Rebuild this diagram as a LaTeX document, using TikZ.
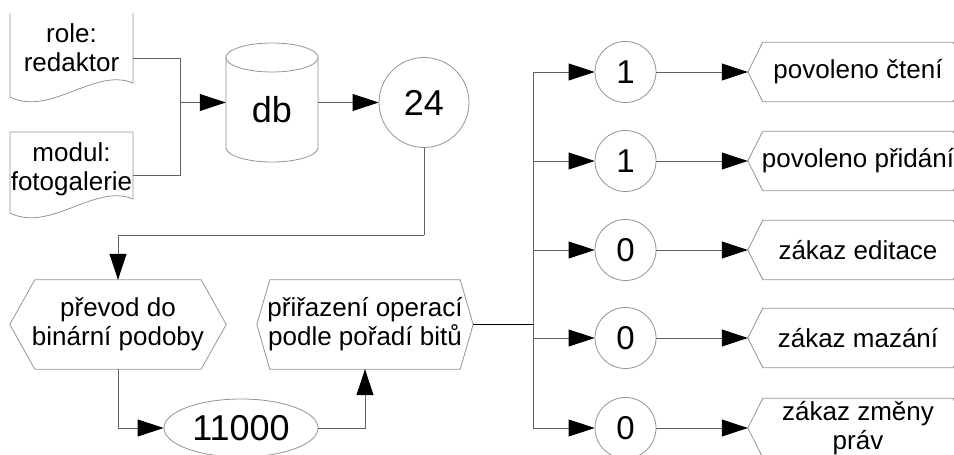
\documentclass[tikz,border=0pt]{standalone}
\usepackage{fontspec}
\setmainfont{Liberation Sans}
\usetikzlibrary{arrows.meta,shapes.geometric}
\newcommand\hexoutline[2]{\draw[outl] (#1.west) -- ([xshift=#2]#1.north west) -- ([xshift=-#2]#1.north east) -- (#1.east) -- ([xshift=-#2]#1.south east) -- ([xshift=#2]#1.south west) -- cycle;}
\begin{document}
\begin{tikzpicture}[x=1pt,y=1pt,
  outl/.style={draw=black!42, line width=0.8pt},
  conn/.style={draw=black!62, line width=0.8pt},
  arr/.style={conn, -{Triangle[length=26pt,width=17pt,color=black]}},
  txt/.style={font=\fontsize{26}{29}\selectfont, align=center, inner sep=0pt},
  bigtxt/.style={font=\fontsize{36}{40}\selectfont, inner sep=0pt},
  midtxt/.style={font=\fontsize{33}{36}\selectfont, inner sep=0pt},
  hexbox/.style={txt, minimum width=#1, minimum height=89pt},
  rhex/.style={txt, minimum width=220pt, minimum height=59pt},
  holder/.style={inner sep=0pt, minimum width=#1},
  bitc/.style={circle, outl, midtxt, minimum size=61pt}
]
\useasboundingbox (0,0) rectangle (954,455);
\clip (0,0) rectangle (954,455);

% documents
\draw[outl] (10,442) -- (10,358) .. controls (50,338) and (95,388) .. (133,372) -- (133,442);
\draw[outl] (10,323) -- (10,242) .. controls (50,222) and (95,272) .. (133,256) -- (133,323) -- cycle;
\node[holder=123pt, minimum height=80pt] (role) at (71.5,397) {};
\node[holder=123pt, minimum height=80pt] (modul) at (71.5,280) {};
\node[txt] (roletext) at (71.5,407) {role:\\redaktor};
\node[txt] (modultext) at (71.5,286) {modul:\\fotogalerie};

% database cylinder
\draw[outl] (226,397.5) -- (226,307.5) arc[start angle=180, end angle=360, x radius=46, y radius=14.5] -- (318,397.5);
\draw[outl] (272,397.5) ellipse [x radius=46, y radius=14.5];
\node[holder=92pt, minimum height=119pt] (db) at (272,352.5) {};
\node[bigtxt] (dbtext) at (272,345) {db};

% value 24
\node[circle, outl, bigtxt, minimum size=90pt] (c24) at (424,352.5) {24};

% hexagons left
\node[hexbox=216pt] (conv) at (118,130.5) {převod do\\binární podoby};
\hexoutline{conv}{25}
\node[hexbox=216pt] (assign) at (365,130.5) {přiřazení operací\\podle pořadí bitů};
\hexoutline{assign}{13}

% binary
\node[ellipse, outl, bigtxt, minimum width=154pt, minimum height=58pt] (bin) at (241,27) {11000};

% bits and results
\node[bitc] (b1) at (625.5,383) {1};
\node[bitc] (b2) at (625.5,294) {1};
\node[bitc] (b3) at (625.5,205) {0};
\node[bitc] (b4) at (625.5,117) {0};
\node[bitc] (b5) at (625.5,27) {0};
\node[rhex] (r1) at (858,383) {povoleno čtení};
\node[rhex] (r2) at (858,294) {povoleno přidání};
\node[rhex] (r3) at (858,205) {zákaz editace};
\node[rhex] (r4) at (858,117) {zákaz mazání};
\node[rhex] (r5) at (858,27) {zákaz změny\\práv};
\foreach \i in {1,...,5} {\hexoutline{r\i}{15}}

% connectors
\coordinate (j1) at (180,352.5);
\coordinate (j2) at (424,220);
\coordinate (j3) at (533,130.5);
\draw[conn] (role.east) -| (j1);
\draw[conn] (modul.east) -| (j1);
\draw[arr] (j1) -- (db.west);
\draw[arr] (db.east) -- (c24.west);
\draw[conn] (c24.south) -- (j2);
\draw[arr] (j2) -| (conv.north);
\draw[arr] (conv.south) |- (bin.west);
\draw[arr] (bin.east) -| (assign.south);
\draw[draw=black, line width=0.8pt] (assign.east) -- (j3);
\foreach \i in {1,...,5} {
  \draw[arr] (j3) |- (b\i.west);
  \draw[arr] (b\i.east) -- (r\i.west);
}
\end{tikzpicture}
\end{document}
